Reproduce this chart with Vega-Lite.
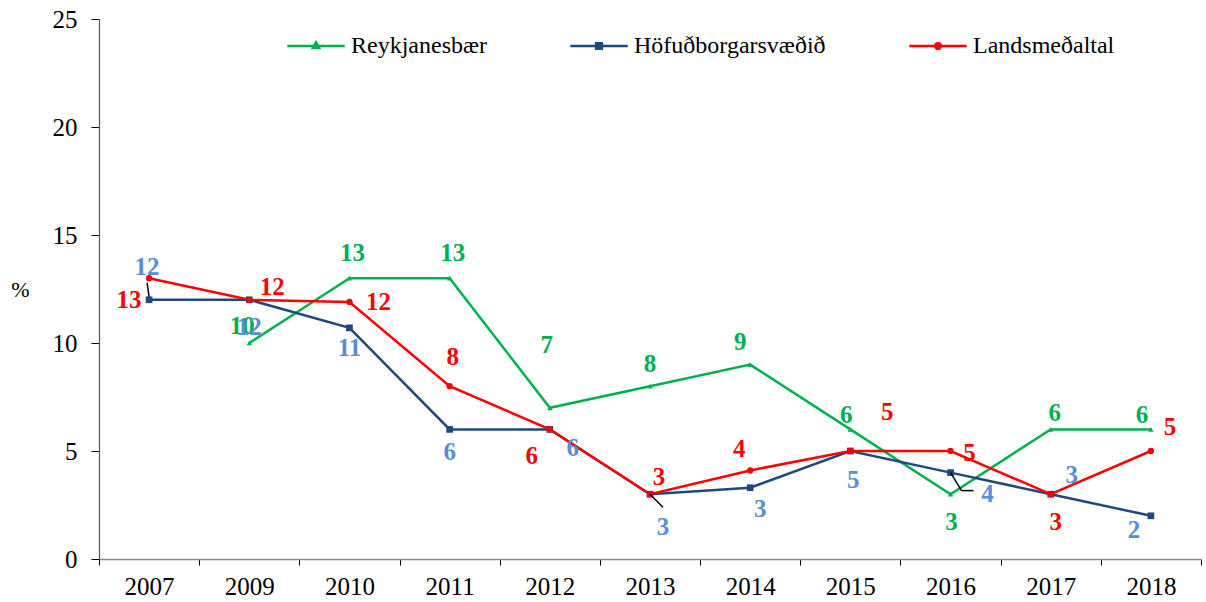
{
  "$schema": "https://vega.github.io/schema/vega-lite/v6.json",
  "width": 1102,
  "height": 540,
  "autosize": "none",
  "padding": {"left": 99, "top": 19, "right": 5, "bottom": 43},
  "background": "white",
  "config": {
    "view": {"stroke": null},
    "font": "Liberation Serif",
    "axis": {"labelFont": "Liberation Serif", "titleFont": "Liberation Serif", "labelColor": "#000", "grid": false}
  },
  "data": {
    "values": [
      {"year": "2009", "series": "Reykjanesbær", "value": 10},
      {"year": "2010", "series": "Reykjanesbær", "value": 13},
      {"year": "2011", "series": "Reykjanesbær", "value": 13},
      {"year": "2012", "series": "Reykjanesbær", "value": 7},
      {"year": "2013", "series": "Reykjanesbær", "value": 8},
      {"year": "2014", "series": "Reykjanesbær", "value": 9},
      {"year": "2015", "series": "Reykjanesbær", "value": 6},
      {"year": "2016", "series": "Reykjanesbær", "value": 3},
      {"year": "2017", "series": "Reykjanesbær", "value": 6},
      {"year": "2018", "series": "Reykjanesbær", "value": 6},
      {"year": "2007", "series": "Höfuðborgarsvæðið", "value": 12},
      {"year": "2009", "series": "Höfuðborgarsvæðið", "value": 12},
      {"year": "2010", "series": "Höfuðborgarsvæðið", "value": 10.7},
      {"year": "2011", "series": "Höfuðborgarsvæðið", "value": 6},
      {"year": "2012", "series": "Höfuðborgarsvæðið", "value": 6},
      {"year": "2013", "series": "Höfuðborgarsvæðið", "value": 3},
      {"year": "2014", "series": "Höfuðborgarsvæðið", "value": 3.3},
      {"year": "2015", "series": "Höfuðborgarsvæðið", "value": 5},
      {"year": "2016", "series": "Höfuðborgarsvæðið", "value": 4},
      {"year": "2017", "series": "Höfuðborgarsvæðið", "value": 3},
      {"year": "2018", "series": "Höfuðborgarsvæðið", "value": 2},
      {"year": "2007", "series": "Landsmeðaltal", "value": 13},
      {"year": "2009", "series": "Landsmeðaltal", "value": 12},
      {"year": "2010", "series": "Landsmeðaltal", "value": 11.9},
      {"year": "2011", "series": "Landsmeðaltal", "value": 8},
      {"year": "2012", "series": "Landsmeðaltal", "value": 6},
      {"year": "2013", "series": "Landsmeðaltal", "value": 3},
      {"year": "2014", "series": "Landsmeðaltal", "value": 4.1},
      {"year": "2015", "series": "Landsmeðaltal", "value": 5},
      {"year": "2016", "series": "Landsmeðaltal", "value": 5},
      {"year": "2017", "series": "Landsmeðaltal", "value": 3},
      {"year": "2018", "series": "Landsmeðaltal", "value": 5}
    ]
  },
  "encoding": {
    "x": {
      "field": "year", "type": "ordinal", "bandPosition": 0.5,
      "scale": {"type": "band", "paddingInner": 0, "paddingOuter": 0},
      "axis": {"title": null, "labelAngle": 0, "labelFontSize": 25, "labelPadding": 9, "tickBand": "extent", "tickSize": 6, "tickColor": "#000", "domainColor": "#868686", "domainWidth": 1.5}
    },
    "y": {
      "field": "value", "type": "quantitative",
      "scale": {"domain": [0, 25], "nice": false},
      "axis": {"values": [0, 5, 10, 15, 20, 25], "title": "%", "titleAngle": 0, "titleX": -79, "titleY": 270, "titleFontSize": 22, "titleFontWeight": "normal", "titleAlign": "center", "titleBaseline": "middle", "labelFontSize": 25, "labelPadding": 14, "tickSize": 8, "tickColor": "#000", "domainColor": "#555", "domainWidth": 1.2}
    }
  },
  "layer": [
    {
      "mark": {"type": "line", "strokeWidth": 2.5},
      "encoding": {
        "color": {
          "field": "series", "type": "nominal",
          "scale": {"domain": ["Reykjanesbær", "Höfuðborgarsvæðið", "Landsmeðaltal"], "range": ["#00B050", "#1F497D", "#FF0000"]},
          "legend": {
            "title": null, "orient": "none", "legendX": 187, "legendY": -3, "direction": "horizontal",
            "symbolType": "M-1,0H1M-0.11,-0.11H0.11V0.11H-0.11Z", "symbolSize": 3300, "symbolStrokeWidth": 2.5,
            "labelFont": "Liberation Serif", "labelFontSize": 24, "labelColor": "#000", "labelOffset": 5,
            "columnPadding": 78, "padding": 0, "labelLimit": 400,
            "encode": {"symbols": {"update": {
              "fill": {"scale": "color", "field": "value"},
              "shape": {"signal": "datum.value == 'Reykjanesbær' ? 'M-1,0H1M0,-0.13L0.11,0.07H-0.11Z' : (datum.value == 'Landsmeðaltal' ? 'M-1,0H1M0.1,0A0.1,0.1 0 1,1 -0.1,0A0.1,0.1 0 1,1 0.1,0Z' : 'M-1,0H1M-0.1,-0.1H0.1V0.1H-0.1Z')"}
            }}}
          }
        }
      }
    },
    {
      "transform": [{"filter": "datum.series == 'Reykjanesbær'"}],
      "mark": {"type": "point", "filled": true, "opacity": 1, "shape": "triangle-up", "size": 30, "color": "#00B050"}
    },
    {
      "transform": [{"filter": "datum.series == 'Höfuðborgarsvæðið'"}],
      "mark": {"type": "point", "filled": true, "opacity": 1, "shape": "square", "size": 45, "color": "#1F497D"}
    },
    {
      "transform": [{"filter": "datum.series == 'Landsmeðaltal'"}],
      "mark": {"type": "point", "filled": true, "opacity": 1, "shape": "circle", "size": 40, "color": "#FF0000"}
    },
    {
      "transform": [{"filter": "datum.series == 'Höfuðborgarsvæðið' && datum.year == '2007'"}],
      "mark": {"type": "rule", "color": "#000", "strokeWidth": 1.5, "yOffset": -3, "x2Offset": -2, "y2Offset": -17},
      "encoding": {"x2": {"field": "year", "bandPosition": 0.5}, "y2": {"field": "value"}}
    },
    {
      "transform": [{"filter": "datum.series == 'Höfuðborgarsvæðið' && datum.year == '2013'"}],
      "mark": {"type": "rule", "color": "#000", "strokeWidth": 1.5, "x2Offset": 13, "y2Offset": 13},
      "encoding": {"x2": {"field": "year", "bandPosition": 0.5}, "y2": {"field": "value"}}
    },
    {
      "transform": [{"filter": "datum.series == 'Höfuðborgarsvæðið' && datum.year == '2016'"}],
      "mark": {"type": "rule", "color": "#000", "strokeWidth": 1.5, "x2Offset": 11, "y2Offset": 18},
      "encoding": {"x2": {"field": "year", "bandPosition": 0.5}, "y2": {"field": "value"}}
    },
    {
      "transform": [{"filter": "datum.series == 'Höfuðborgarsvæðið' && datum.year == '2016'"}],
      "mark": {"type": "rule", "color": "#000", "strokeWidth": 1.5, "xOffset": 11, "yOffset": 18, "x2Offset": 23, "y2Offset": 18},
      "encoding": {"x2": {"field": "year", "bandPosition": 0.5}, "y2": {"field": "value"}}
    },
    {
      "transform": [{"filter": "datum.series == 'Reykjanesbær'"}],
      "mark": {"type": "text", "font": "Liberation Serif", "fontWeight": "bold", "fontSize": 25, "color": "#00B050", "align": "center", "baseline": "middle",
        "dx": {"expr": "[0,-7,3,3,-3,0,-10,-4,1,4,-9][indexof(['2007','2009','2010','2011','2012','2013','2014','2015','2016','2017','2018'], datum.year)]"},
        "dy": {"expr": "[0,-17,-25,-25,-63,-22,-23,-14,28,-16,-14][indexof(['2007','2009','2010','2011','2012','2013','2014','2015','2016','2017','2018'], datum.year)]"}},
      "encoding": {"text": {"field": "value", "type": "quantitative", "format": ".0f"}}
    },
    {
      "transform": [{"filter": "datum.series == 'Höfuðborgarsvæðið'"}],
      "mark": {"type": "text", "font": "Liberation Serif", "fontWeight": "bold", "fontSize": 25, "color": "#558ED5", "align": "center", "baseline": "middle",
        "dx": {"expr": "[-2,0,0,0,23,13,10,3,37,21,-17][indexof(['2007','2009','2010','2011','2012','2013','2014','2015','2016','2017','2018'], datum.year)]"},
        "dy": {"expr": "[-33,27,20,23,19,33,21,29,21,-19,14][indexof(['2007','2009','2010','2011','2012','2013','2014','2015','2016','2017','2018'], datum.year)]"}},
      "encoding": {"text": {"field": "value", "type": "quantitative", "format": ".0f"}}
    },
    {
      "transform": [{"filter": "datum.series == 'Landsmeðaltal'"}],
      "mark": {"type": "text", "font": "Liberation Serif", "fontWeight": "bold", "fontSize": 25, "color": "#FF0000", "align": "center", "baseline": "middle",
        "dx": {"expr": "[-20,23,29,3,-18,9,-11,37,19,5,19][indexof(['2007','2009','2010','2011','2012','2013','2014','2015','2016','2017','2018'], datum.year)]"},
        "dy": {"expr": "[22,-13,0,-29,27,-17,-21,-39,2,28,-24][indexof(['2007','2009','2010','2011','2012','2013','2014','2015','2016','2017','2018'], datum.year)]"}},
      "encoding": {"text": {"field": "value", "type": "quantitative", "format": ".0f"}}
    }
  ]
}
